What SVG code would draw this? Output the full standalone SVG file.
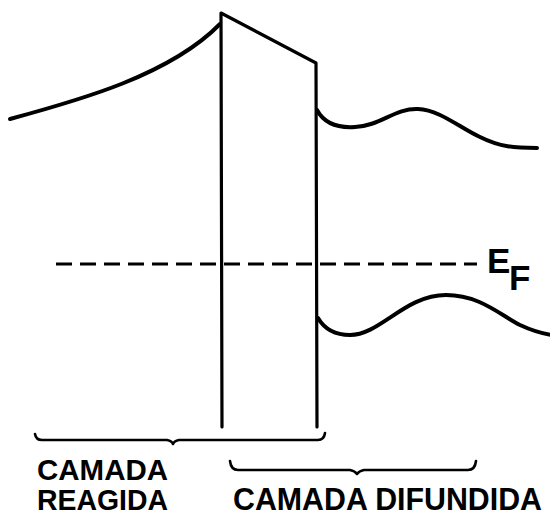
<svg xmlns="http://www.w3.org/2000/svg" width="550" height="516" viewBox="0 0 550 516">
<style>
.ln{fill:none;stroke:#000;stroke-linecap:round;stroke-linejoin:round}
.band{stroke-width:4}
.wall{stroke-width:3.2}
.br{stroke-width:2.6}
.dash{stroke-width:3;stroke-dasharray:16 8;stroke-linecap:butt}
text{font-family:"Liberation Sans",Arial,sans-serif;font-weight:bold;fill:#000}
</style>
<rect width="550" height="516" fill="#fff"/>
<g id="connectors">
<path id="left-band" class="ln band" d="M10,119 C80,100 170,75 220,24"/>
<path id="barrier" class="ln wall" d="M222,427 L221,13 L316,63 L317,427"/>
<path id="upper-wave" class="ln band" d="M317,110 C325,125 340,128 355,127 C380,126 395,108 418,109 C440,110 460,128 480,137 C500,147 515,148 537,148"/>
<path id="lower-wave" class="ln band" d="M318,318 C325,330 335,335 350,335 C380,335 405,295 446,295 C480,295 500,315 520,325 C535,332 545,334 552,335"/>
<path id="fermi" class="ln dash" d="M56,264 L477,264"/>
</g>
<g id="ef-label">
<text x="487" y="273" font-size="35">E</text>
<text x="509" y="290" font-size="35">F</text>
</g>
<g id="bracket-reagida">
<path class="ln br" d="M35,434 Q36,440 42,440 L167,440 Q172,441 173,444 Q174,441 179,440 L318,440 Q324,440 325,433"/>
<text x="37" y="480" font-size="30" textLength="131" lengthAdjust="spacingAndGlyphs">CAMADA</text>
<text x="37" y="510" font-size="30" textLength="131" lengthAdjust="spacingAndGlyphs">REAGIDA</text>
</g>
<g id="bracket-difundida">
<path class="ln br" d="M230,461 Q231,470 238,470 L350,470 Q355,471 357,474 Q359,471 364,470 L468,470 Q475,470 476,461"/>
<text x="233" y="510" font-size="31" textLength="309" lengthAdjust="spacingAndGlyphs">CAMADA DIFUNDIDA</text>
</g>
</svg>
